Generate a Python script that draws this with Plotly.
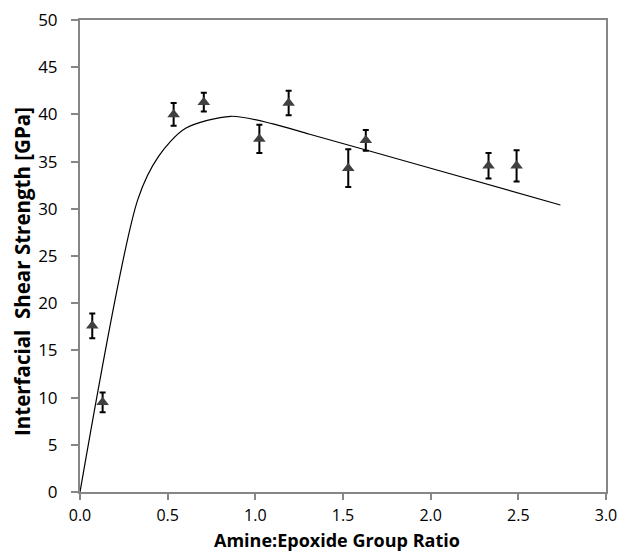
import plotly.graph_objects as go

# Measured data points
ratio = [0.07, 0.129, 0.534, 0.706, 1.023, 1.19, 1.53, 1.63, 2.33, 2.49]
ifss = [17.6, 9.5, 40.0, 41.3, 37.4, 41.2, 34.3, 37.25, 34.55, 34.55]
err = [1.3, 1.05, 1.2, 1.0, 1.5, 1.3, 2.0, 1.1, 1.35, 1.65]

# Model curve
curve_x = [0.0, 0.33, 0.45, 0.60, 0.86, 1.10, 1.31, 2.0, 2.74]
curve_y = [0.0, 31.0, 35.6, 38.5, 39.8, 39.0, 37.9, 34.3, 30.4]

x_ticks = [0.0, 0.5, 1.0, 1.5, 2.0, 2.5, 3.0]
x_tick_text = ["0.0", "0.5", "1.0", "1.5", "2.0", "2.5", "3.0"]
y_ticks = [0, 5, 10, 15, 20, 25, 30, 35, 40, 45, 50]

x_title = "Amine:Epoxide Group Ratio"
y_title = "Interfacial\u00a0\u00a0Shear Strength [GPa]"

font_family = "Open Sans"
axis_color = "#868686"

fig = go.Figure()
fig.add_trace(go.Scatter(
    x=curve_x, y=curve_y, mode="lines",
    line=dict(color="black", width=1.2, shape="spline", smoothing=0.8),
    showlegend=False, hoverinfo="skip",
))
fig.add_trace(go.Scatter(
    x=ratio, y=ifss, mode="markers",
    marker=dict(symbol="triangle-up", size=11, color="#404040"),
    error_y=dict(type="data", array=err, visible=True, color="black",
                 thickness=2, width=3),
    showlegend=False,
))

fig.update_layout(
    width=621, height=554,
    margin=dict(l=80, r=15, t=20, b=62, autoexpand=False),
    paper_bgcolor="white", plot_bgcolor="white",
    font=dict(family=font_family, size=17, color="black"),
    annotations=[
        dict(text="<b>" + x_title + "</b>", xref="paper", yref="paper",
             x=0.4895, y=-0.1314, xanchor="center", yanchor="bottom",
             showarrow=False, font=dict(size=18, color="black")),
        dict(text="<b>" + y_title + "</b>", xref="paper", yref="paper",
             x=-0.1103, y=0.4682, xanchor="center", yanchor="middle",
             textangle=-90, showarrow=False,
             font=dict(size=20.5, color="black")),
    ],
)
fig.update_xaxes(
    range=[0, 3], tickvals=x_ticks, ticktext=x_tick_text,
    showgrid=False, zeroline=False, automargin=False,
    showline=True, linecolor=axis_color, linewidth=2, mirror=True,
    ticks="outside", ticklen=6, tickcolor=axis_color, tickwidth=2,
    tickfont=dict(size=16), ticklabelstandoff=2,
)
fig.update_yaxes(
    range=[0, 50], tickvals=y_ticks,
    showgrid=False, zeroline=False, automargin=False,
    showline=True, linecolor=axis_color, linewidth=2, mirror=True,
    ticks="outside", ticklen=7, tickcolor=axis_color, tickwidth=2,
    tickfont=dict(size=17), ticklabelstandoff=10,
)

fig.write_html("out.html")
